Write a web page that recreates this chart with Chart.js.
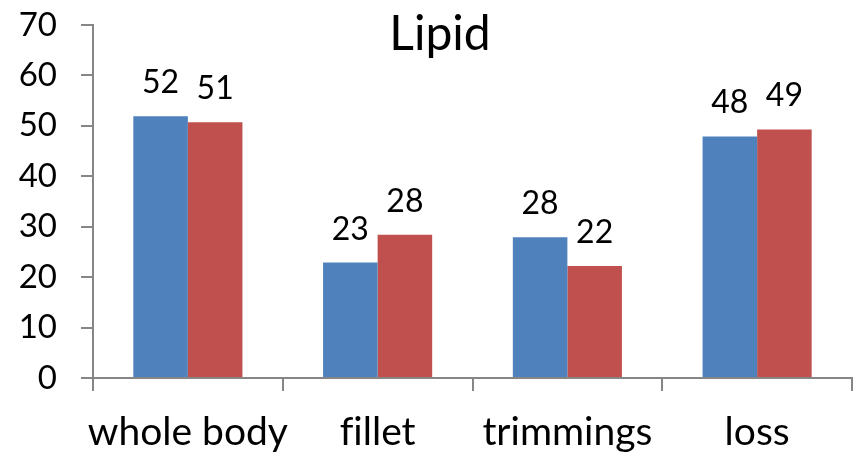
<!DOCTYPE html>
<html>
<head>
<meta charset="utf-8">
<script src="https://cdn.jsdelivr.net/npm/chart.js@4/dist/chart.umd.min.js"></script>
<style>
  html, body { margin: 0; padding: 0; background: #fff; }
  #wrap { width: 856px; height: 456px; }
</style>
</head>
<body>
<div id="wrap"><canvas id="lipid_chart"></canvas></div>
<script>
var categories = ["whole body", "fillet", "trimmings", "loss"];
var seriesA = [51.9, 22.9, 27.9, 47.9];
var seriesB = [50.7, 28.4, 22.2, 49.3];
var yTicks = [0, 10, 20, 30, 40, 50, 60, 70];
var chartTitle = "Lipid";

var FONT = "Lato, 'Open Sans', sans-serif";
var AXIS_GRAY = "#868686";

// no "fi" ligatures, the original has plain letters
var plainText = {
    id: 'plainText',
    beforeDraw: function(chart) {
        chart.ctx.textRendering = "optimizeSpeed";
    }
};

// value labels above each bar
var barLabels = {
    id: 'barLabels',
    afterDatasetsDraw: function(chart) {
        var ctx = chart.ctx;
        ctx.save();
        ctx.font = "32px " + FONT;
        ctx.fillStyle = "#000";
        ctx.textAlign = "center";
        ctx.textBaseline = "alphabetic";
        chart.data.datasets.forEach(function(ds, i) {
            chart.getDatasetMeta(i).data.forEach(function(bar, j) {
                ctx.fillText(Math.round(ds.data[j]), bar.x, bar.y - 23);
            });
        });
        ctx.restore();
    }
};

// title sits inside the plot area, like the original
var innerTitle = {
    id: 'innerTitle',
    afterDraw: function(chart) {
        var ctx = chart.ctx;
        ctx.save();
        ctx.font = "48px " + FONT;
        ctx.fillStyle = "#000";
        ctx.textAlign = "center";
        ctx.textBaseline = "alphabetic";
        ctx.fillText(chartTitle, 440, 50);
        ctx.restore();
    }
};

var ctxLipid = document.getElementById("lipid_chart").getContext("2d");

var lipid_chart = new Chart(ctxLipid, {
    type: 'bar',
    data: {
        labels: categories,
        datasets: [{
            label: 'A',
            data: seriesA,
            backgroundColor: "#4F81BD"
        }, {
            label: 'B',
            data: seriesB,
            backgroundColor: "#C0504D"
        }]
    },
    options: {
        responsive: true,
        maintainAspectRatio: false,
        animation: false,
        layout: { padding: { top: 25, right: 4, left: 0, bottom: 0 } },
        plugins: {
            legend: { display: false },
            tooltip: { enabled: false }
        },
        datasets: {
            bar: { categoryPercentage: 0.575, barPercentage: 1.0 }
        },
        scales: {
            x: {
                grid: { display: true, drawOnChartArea: false, drawTicks: true, tickLength: 13, color: AXIS_GRAY, lineWidth: 2 },
                border: { display: true, color: AXIS_GRAY, width: 2 },
                ticks: { color: "#000", font: { family: FONT, size: 39 }, padding: 18, maxRotation: 0, autoSkip: false },
                afterFit: function(s) { s.height = 78; }
            },
            y: {
                min: 0,
                max: 70,
                afterBuildTicks: function(s) { s.ticks = yTicks.map(function(v) { return { value: v }; }); },
                grid: { display: true, drawOnChartArea: false, drawTicks: true, tickLength: 12, color: AXIS_GRAY, lineWidth: 2 },
                border: { display: true, color: AXIS_GRAY, width: 2 },
                ticks: { color: "#000", font: { family: FONT, size: 33 }, padding: 24 },
                afterFit: function(s) {
                    s.width = 93;
                    s.paddingTop = 0;
                    s.paddingBottom = 0;
                }
            }
        }
    },
    plugins: [plainText, barLabels, innerTitle]
});
</script>
</body>
</html>
